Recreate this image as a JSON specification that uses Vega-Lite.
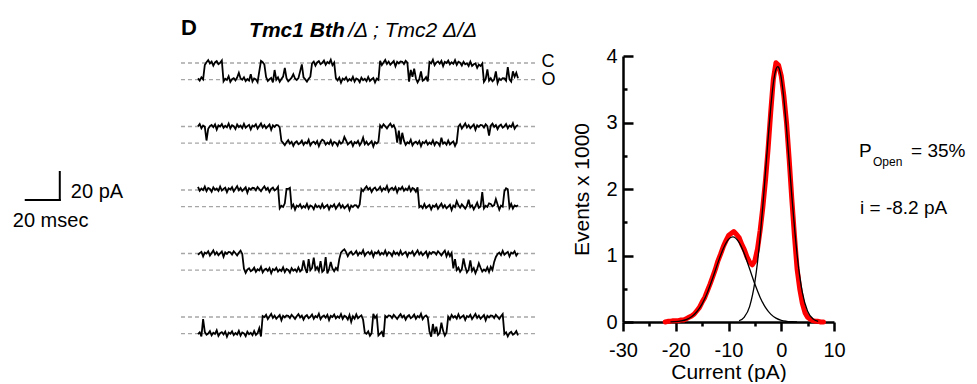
{
"$schema":"https://vega.github.io/schema/vega-lite/v6.json",
"background":"white",
"padding":{"left":12,"top":17,"right":0,"bottom":0},
"config":{"view":{"stroke":null},"font":"Liberation Sans","axis":{"labelFont":"Liberation Sans","titleFont":"Liberation Sans"}},
"datasets":{
"traces":[
{"k":1,"t":0,"v":-11.0},{"k":1,"t":1,"v":-12.6},{"k":1,"t":2,"v":-10.3},{"k":1,"t":3,"v":-11.7},{"k":1,"t":4,"v":-1.4},{"k":1,"t":5,"v":0.6},{"k":1,"t":6,"v":2.1},{"k":1,"t":7,"v":-0.3},{"k":1,"t":8,"v":1.0},{"k":1,"t":9,"v":-1.9},{"k":1,"t":10,"v":0.4},{"k":1,"t":11,"v":1.3},{"k":1,"t":12,"v":-0.8},{"k":1,"t":13,"v":0.1},{"k":1,"t":14,"v":1.8},{"k":1,"t":15,"v":-13.1},{"k":1,"t":16,"v":-11.2},{"k":1,"t":17,"v":-12.1},{"k":1,"t":18,"v":-9.5},{"k":1,"t":19,"v":-13.5},{"k":1,"t":20,"v":-11.6},{"k":1,"t":21,"v":-10.8},{"k":1,"t":22,"v":-12.4},{"k":1,"t":23,"v":-10.4},{"k":1,"t":24,"v":-7.0},{"k":1,"t":25,"v":-11.1},{"k":1,"t":26,"v":-11.9},{"k":1,"t":27,"v":-10.2},{"k":1,"t":28,"v":-12.9},{"k":1,"t":29,"v":-11.4},{"k":1,"t":30,"v":-12.5},{"k":1,"t":31,"v":-8.0},{"k":1,"t":32,"v":-13.2},{"k":1,"t":33,"v":-11.0},{"k":1,"t":34,"v":-11.7},{"k":1,"t":35,"v":-13.7},{"k":1,"t":36,"v":-6.0},{"k":1,"t":37,"v":1.5},{"k":1,"t":38,"v":0.6},{"k":1,"t":39,"v":-1.1},{"k":1,"t":40,"v":-10.0},{"k":1,"t":41,"v":-12.8},{"k":1,"t":42,"v":-11.6},{"k":1,"t":43,"v":-10.7},{"k":1,"t":44,"v":-13.9},{"k":1,"t":45,"v":-5.0},{"k":1,"t":46,"v":-12.0},{"k":1,"t":47,"v":-10.3},{"k":1,"t":48,"v":-13.4},{"k":1,"t":49,"v":-11.5},{"k":1,"t":50,"v":-9.7},{"k":1,"t":51,"v":-3.5},{"k":1,"t":52,"v":-10.9},{"k":1,"t":53,"v":-13.1},{"k":1,"t":54,"v":-11.8},{"k":1,"t":55,"v":-10.5},{"k":1,"t":56,"v":-8.0},{"k":1,"t":57,"v":-11.1},{"k":1,"t":58,"v":-12.2},{"k":1,"t":59,"v":-10.8},{"k":1,"t":60,"v":-6.0},{"k":1,"t":61,"v":-1.0},{"k":1,"t":62,"v":-10.3},{"k":1,"t":63,"v":-11.7},{"k":1,"t":64,"v":-13.3},{"k":1,"t":65,"v":-11.3},{"k":1,"t":66,"v":-9.8},{"k":1,"t":67,"v":-0.3},{"k":1,"t":68,"v":1.0},{"k":1,"t":69,"v":-1.9},{"k":1,"t":70,"v":0.4},{"k":1,"t":71,"v":1.3},{"k":1,"t":72,"v":-0.8},{"k":1,"t":73,"v":0.1},{"k":1,"t":74,"v":1.8},{"k":1,"t":75,"v":-1.2},{"k":1,"t":76,"v":0.7},{"k":1,"t":77,"v":-0.2},{"k":1,"t":78,"v":2.4},{"k":1,"t":79,"v":-1.6},{"k":1,"t":80,"v":0.3},{"k":1,"t":81,"v":-10.8},{"k":1,"t":82,"v":-12.4},{"k":1,"t":83,"v":-10.4},{"k":1,"t":84,"v":-14.1},{"k":1,"t":85,"v":-11.1},{"k":1,"t":86,"v":-11.9},{"k":1,"t":87,"v":-10.2},{"k":1,"t":88,"v":-12.9},{"k":1,"t":89,"v":-11.4},{"k":1,"t":90,"v":-12.5},{"k":1,"t":91,"v":-9.9},{"k":1,"t":92,"v":-13.2},{"k":1,"t":93,"v":-11.0},{"k":1,"t":94,"v":-11.7},{"k":1,"t":95,"v":-13.7},{"k":1,"t":96,"v":-10.5},{"k":1,"t":97,"v":-12.3},{"k":1,"t":98,"v":-11.3},{"k":1,"t":99,"v":-13.0},{"k":1,"t":100,"v":-10.0},{"k":1,"t":101,"v":-12.8},{"k":1,"t":102,"v":-11.6},{"k":1,"t":103,"v":-10.7},{"k":1,"t":104,"v":-13.9},{"k":1,"t":105,"v":-11.2},{"k":1,"t":106,"v":-12.0},{"k":1,"t":107,"v":1.6},{"k":1,"t":108,"v":-1.5},{"k":1,"t":109,"v":0.4},{"k":1,"t":110,"v":2.2},{"k":1,"t":111,"v":-0.7},{"k":1,"t":112,"v":1.0},{"k":1,"t":113,"v":-1.2},{"k":1,"t":114,"v":0.1},{"k":1,"t":115,"v":1.4},{"k":1,"t":116,"v":-2.4},{"k":1,"t":117,"v":0.8},{"k":1,"t":118,"v":-0.3},{"k":1,"t":119,"v":1.1},{"k":1,"t":120,"v":0.9},{"k":1,"t":121,"v":-0.7},{"k":1,"t":122,"v":1.6},{"k":1,"t":123,"v":0.2},{"k":1,"t":124,"v":-13.3},{"k":1,"t":125,"v":-5.0},{"k":1,"t":126,"v":-9.8},{"k":1,"t":127,"v":-4.0},{"k":1,"t":128,"v":-10.9},{"k":1,"t":129,"v":-13.8},{"k":1,"t":130,"v":-11.5},{"k":1,"t":131,"v":-6.0},{"k":1,"t":132,"v":-12.7},{"k":1,"t":133,"v":-11.8},{"k":1,"t":134,"v":-10.1},{"k":1,"t":135,"v":-13.1},{"k":1,"t":136,"v":0.7},{"k":1,"t":137,"v":-0.2},{"k":1,"t":138,"v":2.4},{"k":1,"t":139,"v":-1.6},{"k":1,"t":140,"v":0.3},{"k":1,"t":141,"v":1.1},{"k":1,"t":142,"v":-0.5},{"k":1,"t":143,"v":1.5},{"k":1,"t":144,"v":-2.2},{"k":1,"t":145,"v":0.8},{"k":1,"t":146,"v":0.0},{"k":1,"t":147,"v":1.7},{"k":1,"t":148,"v":-1.0},{"k":1,"t":149,"v":0.5},{"k":1,"t":150,"v":-0.6},{"k":1,"t":151,"v":2.0},{"k":1,"t":152,"v":-1.3},{"k":1,"t":153,"v":0.9},{"k":1,"t":154,"v":0.2},{"k":1,"t":155,"v":-1.8},{"k":1,"t":156,"v":0.9},{"k":1,"t":157,"v":-0.9},{"k":1,"t":158,"v":-0.2},{"k":1,"t":159,"v":-2.1},{"k":1,"t":160,"v":0.9},{"k":1,"t":161,"v":-2.1},{"k":1,"t":162,"v":-0.9},{"k":1,"t":163,"v":-0.3},{"k":1,"t":164,"v":-3.5},{"k":1,"t":165,"v":-1.1},{"k":1,"t":166,"v":-2.1},{"k":1,"t":167,"v":-0.4},{"k":1,"t":168,"v":-13.4},{"k":1,"t":169,"v":-11.5},{"k":1,"t":170,"v":-4.5},{"k":1,"t":171,"v":-12.6},{"k":1,"t":172,"v":-10.9},{"k":1,"t":173,"v":-13.1},{"k":1,"t":174,"v":-11.8},{"k":1,"t":175,"v":-6.0},{"k":1,"t":176,"v":-14.3},{"k":1,"t":177,"v":-11.1},{"k":1,"t":178,"v":-12.2},{"k":1,"t":179,"v":-10.8},{"k":1,"t":180,"v":-11.0},{"k":1,"t":181,"v":-12.6},{"k":1,"t":182,"v":-3.0},{"k":1,"t":183,"v":-11.7},{"k":1,"t":184,"v":-13.3},{"k":1,"t":185,"v":-6.0},{"k":1,"t":186,"v":-9.8},{"k":1,"t":187,"v":-7.0},{"k":1,"t":188,"v":-10.9},
{"k":2,"t":0,"v":0.1},{"k":2,"t":1,"v":1.8},{"k":2,"t":2,"v":-1.2},{"k":2,"t":3,"v":0.7},{"k":2,"t":4,"v":-0.2},{"k":2,"t":5,"v":-10.0},{"k":2,"t":6,"v":-1.6},{"k":2,"t":7,"v":0.3},{"k":2,"t":8,"v":1.1},{"k":2,"t":9,"v":-0.5},{"k":2,"t":10,"v":1.5},{"k":2,"t":11,"v":-2.2},{"k":2,"t":12,"v":0.8},{"k":2,"t":13,"v":0.0},{"k":2,"t":14,"v":1.7},{"k":2,"t":15,"v":-1.0},{"k":2,"t":16,"v":0.5},{"k":2,"t":17,"v":-0.6},{"k":2,"t":18,"v":2.0},{"k":2,"t":19,"v":-1.3},{"k":2,"t":20,"v":0.9},{"k":2,"t":21,"v":0.2},{"k":2,"t":22,"v":-1.8},{"k":2,"t":23,"v":1.4},{"k":2,"t":24,"v":-0.4},{"k":2,"t":25,"v":0.6},{"k":2,"t":26,"v":-1.1},{"k":2,"t":27,"v":1.9},{"k":2,"t":28,"v":-0.9},{"k":2,"t":29,"v":0.3},{"k":2,"t":30,"v":1.2},{"k":2,"t":31,"v":-2.0},{"k":2,"t":32,"v":0.7},{"k":2,"t":33,"v":-0.1},{"k":2,"t":34,"v":1.6},{"k":2,"t":35,"v":-1.5},{"k":2,"t":36,"v":0.4},{"k":2,"t":37,"v":2.2},{"k":2,"t":38,"v":-0.7},{"k":2,"t":39,"v":1.0},{"k":2,"t":40,"v":-1.2},{"k":2,"t":41,"v":0.1},{"k":2,"t":42,"v":1.4},{"k":2,"t":43,"v":-2.4},{"k":2,"t":44,"v":0.8},{"k":2,"t":45,"v":-0.3},{"k":2,"t":46,"v":1.1},{"k":2,"t":47,"v":0.9},{"k":2,"t":48,"v":-0.7},{"k":2,"t":49,"v":-10.3},{"k":2,"t":50,"v":-11.7},{"k":2,"t":51,"v":-13.3},{"k":2,"t":52,"v":-11.3},{"k":2,"t":53,"v":-9.8},{"k":2,"t":54,"v":-12.2},{"k":2,"t":55,"v":-10.9},{"k":2,"t":56,"v":-13.8},{"k":2,"t":57,"v":-11.5},{"k":2,"t":58,"v":-10.6},{"k":2,"t":59,"v":-12.7},{"k":2,"t":60,"v":-11.8},{"k":2,"t":61,"v":-10.1},{"k":2,"t":62,"v":-13.1},{"k":2,"t":63,"v":-11.2},{"k":2,"t":64,"v":-12.1},{"k":2,"t":65,"v":-9.5},{"k":2,"t":66,"v":-13.5},{"k":2,"t":67,"v":-11.6},{"k":2,"t":68,"v":-10.8},{"k":2,"t":69,"v":-12.4},{"k":2,"t":70,"v":-10.4},{"k":2,"t":71,"v":-14.1},{"k":2,"t":72,"v":-11.1},{"k":2,"t":73,"v":-9.5},{"k":2,"t":74,"v":-10.2},{"k":2,"t":75,"v":-12.9},{"k":2,"t":76,"v":-11.4},{"k":2,"t":77,"v":-12.5},{"k":2,"t":78,"v":-9.9},{"k":2,"t":79,"v":-13.2},{"k":2,"t":80,"v":-11.0},{"k":2,"t":81,"v":-11.7},{"k":2,"t":82,"v":-13.7},{"k":2,"t":83,"v":-10.5},{"k":2,"t":84,"v":-12.3},{"k":2,"t":85,"v":-11.3},{"k":2,"t":86,"v":-7.5},{"k":2,"t":87,"v":-10.0},{"k":2,"t":88,"v":-12.8},{"k":2,"t":89,"v":-11.6},{"k":2,"t":90,"v":-10.7},{"k":2,"t":91,"v":-13.9},{"k":2,"t":92,"v":-11.2},{"k":2,"t":93,"v":-12.0},{"k":2,"t":94,"v":-10.3},{"k":2,"t":95,"v":-13.4},{"k":2,"t":96,"v":-11.5},{"k":2,"t":97,"v":-8.0},{"k":2,"t":98,"v":-12.6},{"k":2,"t":99,"v":-10.9},{"k":2,"t":100,"v":-13.1},{"k":2,"t":101,"v":-11.8},{"k":2,"t":102,"v":-10.5},{"k":2,"t":103,"v":-14.3},{"k":2,"t":104,"v":-11.1},{"k":2,"t":105,"v":-12.2},{"k":2,"t":106,"v":-10.8},{"k":2,"t":107,"v":0.9},{"k":2,"t":108,"v":-0.7},{"k":2,"t":109,"v":1.6},{"k":2,"t":110,"v":0.2},{"k":2,"t":111,"v":-1.4},{"k":2,"t":112,"v":0.6},{"k":2,"t":113,"v":2.1},{"k":2,"t":114,"v":-0.3},{"k":2,"t":115,"v":1.0},{"k":2,"t":116,"v":-1.9},{"k":2,"t":117,"v":-11.5},{"k":2,"t":118,"v":-3.0},{"k":2,"t":119,"v":-12.7},{"k":2,"t":120,"v":-4.5},{"k":2,"t":121,"v":-10.1},{"k":2,"t":122,"v":-13.1},{"k":2,"t":123,"v":-11.2},{"k":2,"t":124,"v":-12.1},{"k":2,"t":125,"v":-9.5},{"k":2,"t":126,"v":-13.5},{"k":2,"t":127,"v":-11.6},{"k":2,"t":128,"v":-10.8},{"k":2,"t":129,"v":-12.4},{"k":2,"t":130,"v":-10.4},{"k":2,"t":131,"v":-14.1},{"k":2,"t":132,"v":-11.1},{"k":2,"t":133,"v":-11.9},{"k":2,"t":134,"v":-10.2},{"k":2,"t":135,"v":-12.9},{"k":2,"t":136,"v":-11.4},{"k":2,"t":137,"v":-12.5},{"k":2,"t":138,"v":-9.9},{"k":2,"t":139,"v":-13.2},{"k":2,"t":140,"v":-11.0},{"k":2,"t":141,"v":-11.7},{"k":2,"t":142,"v":-13.7},{"k":2,"t":143,"v":-8.0},{"k":2,"t":144,"v":-12.3},{"k":2,"t":145,"v":-11.3},{"k":2,"t":146,"v":-13.0},{"k":2,"t":147,"v":-10.0},{"k":2,"t":148,"v":-12.8},{"k":2,"t":149,"v":-11.6},{"k":2,"t":150,"v":-10.7},{"k":2,"t":151,"v":-13.9},{"k":2,"t":152,"v":-11.2},{"k":2,"t":153,"v":-0.1},{"k":2,"t":154,"v":1.6},{"k":2,"t":155,"v":-1.5},{"k":2,"t":156,"v":0.4},{"k":2,"t":157,"v":2.2},{"k":2,"t":158,"v":-0.7},{"k":2,"t":159,"v":1.0},{"k":2,"t":160,"v":-1.2},{"k":2,"t":161,"v":0.1},{"k":2,"t":162,"v":1.4},{"k":2,"t":163,"v":-2.4},{"k":2,"t":164,"v":0.8},{"k":2,"t":165,"v":-0.3},{"k":2,"t":166,"v":1.1},{"k":2,"t":167,"v":0.9},{"k":2,"t":168,"v":-0.7},{"k":2,"t":169,"v":1.6},{"k":2,"t":170,"v":0.2},{"k":2,"t":171,"v":-6.5},{"k":2,"t":172,"v":0.6},{"k":2,"t":173,"v":2.1},{"k":2,"t":174,"v":-0.3},{"k":2,"t":175,"v":1.0},{"k":2,"t":176,"v":-1.9},{"k":2,"t":177,"v":0.4},{"k":2,"t":178,"v":1.3},{"k":2,"t":179,"v":-0.8},{"k":2,"t":180,"v":0.1},{"k":2,"t":181,"v":1.8},{"k":2,"t":182,"v":-1.2},{"k":2,"t":183,"v":0.7},{"k":2,"t":184,"v":-0.2},{"k":2,"t":185,"v":2.4},{"k":2,"t":186,"v":-1.6},{"k":2,"t":187,"v":0.3},{"k":2,"t":188,"v":1.1},
{"k":3,"t":0,"v":2.2},{"k":3,"t":1,"v":-0.5},{"k":3,"t":2,"v":1.0},{"k":3,"t":3,"v":-0.1},{"k":3,"t":4,"v":2.5},{"k":3,"t":5,"v":-0.8},{"k":3,"t":6,"v":1.4},{"k":3,"t":7,"v":0.7},{"k":3,"t":8,"v":-1.3},{"k":3,"t":9,"v":1.9},{"k":3,"t":10,"v":0.1},{"k":3,"t":11,"v":1.1},{"k":3,"t":12,"v":-0.6},{"k":3,"t":13,"v":2.4},{"k":3,"t":14,"v":-0.4},{"k":3,"t":15,"v":0.8},{"k":3,"t":16,"v":1.7},{"k":3,"t":17,"v":-1.5},{"k":3,"t":18,"v":1.2},{"k":3,"t":19,"v":0.4},{"k":3,"t":20,"v":2.1},{"k":3,"t":21,"v":-1.0},{"k":3,"t":22,"v":0.9},{"k":3,"t":23,"v":2.7},{"k":3,"t":24,"v":-0.2},{"k":3,"t":25,"v":1.5},{"k":3,"t":26,"v":-0.7},{"k":3,"t":27,"v":0.6},{"k":3,"t":28,"v":1.9},{"k":3,"t":29,"v":-1.9},{"k":3,"t":30,"v":1.3},{"k":3,"t":31,"v":0.2},{"k":3,"t":32,"v":1.6},{"k":3,"t":33,"v":1.4},{"k":3,"t":34,"v":-0.2},{"k":3,"t":35,"v":2.1},{"k":3,"t":36,"v":0.7},{"k":3,"t":37,"v":-0.9},{"k":3,"t":38,"v":1.1},{"k":3,"t":39,"v":2.6},{"k":3,"t":40,"v":0.2},{"k":3,"t":41,"v":1.5},{"k":3,"t":42,"v":-1.4},{"k":3,"t":43,"v":0.9},{"k":3,"t":44,"v":1.8},{"k":3,"t":45,"v":-0.3},{"k":3,"t":46,"v":0.6},{"k":3,"t":47,"v":2.3},{"k":3,"t":48,"v":-13.1},{"k":3,"t":49,"v":-11.2},{"k":3,"t":50,"v":-12.1},{"k":3,"t":51,"v":-9.5},{"k":3,"t":52,"v":0.8},{"k":3,"t":53,"v":0.8},{"k":3,"t":54,"v":1.6},{"k":3,"t":55,"v":-12.4},{"k":3,"t":56,"v":-10.4},{"k":3,"t":57,"v":-14.1},{"k":3,"t":58,"v":-11.1},{"k":3,"t":59,"v":-11.9},{"k":3,"t":60,"v":-10.2},{"k":3,"t":61,"v":-12.9},{"k":3,"t":62,"v":-11.4},{"k":3,"t":63,"v":-12.5},{"k":3,"t":64,"v":-9.9},{"k":3,"t":65,"v":-13.2},{"k":3,"t":66,"v":-11.0},{"k":3,"t":67,"v":-11.7},{"k":3,"t":68,"v":-13.7},{"k":3,"t":69,"v":-10.5},{"k":3,"t":70,"v":-12.3},{"k":3,"t":71,"v":-11.3},{"k":3,"t":72,"v":-13.0},{"k":3,"t":73,"v":-10.0},{"k":3,"t":74,"v":-12.8},{"k":3,"t":75,"v":-11.6},{"k":3,"t":76,"v":-10.7},{"k":3,"t":77,"v":-13.9},{"k":3,"t":78,"v":-11.2},{"k":3,"t":79,"v":-12.0},{"k":3,"t":80,"v":-10.3},{"k":3,"t":81,"v":-13.4},{"k":3,"t":82,"v":-11.5},{"k":3,"t":83,"v":-9.7},{"k":3,"t":84,"v":-12.6},{"k":3,"t":85,"v":-10.9},{"k":3,"t":86,"v":-13.1},{"k":3,"t":87,"v":-11.8},{"k":3,"t":88,"v":-10.5},{"k":3,"t":89,"v":-14.3},{"k":3,"t":90,"v":-11.1},{"k":3,"t":91,"v":-12.2},{"k":3,"t":92,"v":-10.8},{"k":3,"t":93,"v":-11.0},{"k":3,"t":94,"v":-12.6},{"k":3,"t":95,"v":-10.3},{"k":3,"t":96,"v":0.7},{"k":3,"t":97,"v":-0.9},{"k":3,"t":98,"v":1.1},{"k":3,"t":99,"v":2.6},{"k":3,"t":100,"v":0.2},{"k":3,"t":101,"v":1.5},{"k":3,"t":102,"v":-1.4},{"k":3,"t":103,"v":0.9},{"k":3,"t":104,"v":1.8},{"k":3,"t":105,"v":-0.3},{"k":3,"t":106,"v":0.6},{"k":3,"t":107,"v":2.3},{"k":3,"t":108,"v":-0.7},{"k":3,"t":109,"v":1.2},{"k":3,"t":110,"v":0.3},{"k":3,"t":111,"v":2.9},{"k":3,"t":112,"v":-1.1},{"k":3,"t":113,"v":0.8},{"k":3,"t":114,"v":1.6},{"k":3,"t":115,"v":0.0},{"k":3,"t":116,"v":2.0},{"k":3,"t":117,"v":-1.7},{"k":3,"t":118,"v":1.3},{"k":3,"t":119,"v":0.5},{"k":3,"t":120,"v":2.2},{"k":3,"t":121,"v":-0.5},{"k":3,"t":122,"v":1.0},{"k":3,"t":123,"v":-0.1},{"k":3,"t":124,"v":2.5},{"k":3,"t":125,"v":-0.8},{"k":3,"t":126,"v":1.4},{"k":3,"t":127,"v":0.7},{"k":3,"t":128,"v":-1.3},{"k":3,"t":129,"v":1.9},{"k":3,"t":130,"v":-12.3},{"k":3,"t":131,"v":-11.3},{"k":3,"t":132,"v":-13.0},{"k":3,"t":133,"v":-10.0},{"k":3,"t":134,"v":-12.8},{"k":3,"t":135,"v":-11.6},{"k":3,"t":136,"v":-10.7},{"k":3,"t":137,"v":-13.9},{"k":3,"t":138,"v":-11.2},{"k":3,"t":139,"v":-12.0},{"k":3,"t":140,"v":-10.3},{"k":3,"t":141,"v":-13.4},{"k":3,"t":142,"v":-11.5},{"k":3,"t":143,"v":-9.7},{"k":3,"t":144,"v":-12.6},{"k":3,"t":145,"v":-10.9},{"k":3,"t":146,"v":-13.1},{"k":3,"t":147,"v":-11.8},{"k":3,"t":148,"v":-10.5},{"k":3,"t":149,"v":-14.3},{"k":3,"t":150,"v":-11.1},{"k":3,"t":151,"v":-12.2},{"k":3,"t":152,"v":-8.0},{"k":3,"t":153,"v":-11.0},{"k":3,"t":154,"v":-12.6},{"k":3,"t":155,"v":-10.3},{"k":3,"t":156,"v":-11.7},{"k":3,"t":157,"v":-13.3},{"k":3,"t":158,"v":-11.3},{"k":3,"t":159,"v":-7.0},{"k":3,"t":160,"v":-12.2},{"k":3,"t":161,"v":-10.9},{"k":3,"t":162,"v":-13.8},{"k":3,"t":163,"v":-11.5},{"k":3,"t":164,"v":-9.0},{"k":3,"t":165,"v":-12.7},{"k":3,"t":166,"v":-11.8},{"k":3,"t":167,"v":-1.5},{"k":3,"t":168,"v":-13.1},{"k":3,"t":169,"v":-11.2},{"k":3,"t":170,"v":-12.1},{"k":3,"t":171,"v":-9.5},{"k":3,"t":172,"v":-10.0},{"k":3,"t":173,"v":-11.6},{"k":3,"t":174,"v":-10.8},{"k":3,"t":175,"v":-6.5},{"k":3,"t":176,"v":-10.4},{"k":3,"t":177,"v":-14.1},{"k":3,"t":178,"v":-11.1},{"k":3,"t":179,"v":-11.9},{"k":3,"t":180,"v":-1.0},{"k":3,"t":181,"v":1.2},{"k":3,"t":182,"v":0.5},{"k":3,"t":183,"v":-12.5},{"k":3,"t":184,"v":-9.9},{"k":3,"t":185,"v":-13.2},{"k":3,"t":186,"v":-11.0},{"k":3,"t":187,"v":-11.7},{"k":3,"t":188,"v":-10.8},
{"k":4,"t":0,"v":-0.9},{"k":4,"t":1,"v":0.3},{"k":4,"t":2,"v":1.2},{"k":4,"t":3,"v":-2.0},{"k":4,"t":4,"v":0.7},{"k":4,"t":5,"v":-0.1},{"k":4,"t":6,"v":1.6},{"k":4,"t":7,"v":-1.5},{"k":4,"t":8,"v":0.4},{"k":4,"t":9,"v":2.2},{"k":4,"t":10,"v":-0.7},{"k":4,"t":11,"v":1.0},{"k":4,"t":12,"v":-1.2},{"k":4,"t":13,"v":0.1},{"k":4,"t":14,"v":1.4},{"k":4,"t":15,"v":-2.4},{"k":4,"t":16,"v":0.8},{"k":4,"t":17,"v":-0.3},{"k":4,"t":18,"v":1.1},{"k":4,"t":19,"v":0.9},{"k":4,"t":20,"v":-0.7},{"k":4,"t":21,"v":1.6},{"k":4,"t":22,"v":0.2},{"k":4,"t":23,"v":-1.4},{"k":4,"t":24,"v":0.6},{"k":4,"t":25,"v":2.1},{"k":4,"t":26,"v":-0.3},{"k":4,"t":27,"v":-10.9},{"k":4,"t":28,"v":-13.8},{"k":4,"t":29,"v":-11.5},{"k":4,"t":30,"v":-10.6},{"k":4,"t":31,"v":-12.7},{"k":4,"t":32,"v":-11.8},{"k":4,"t":33,"v":-10.1},{"k":4,"t":34,"v":-13.1},{"k":4,"t":35,"v":-11.2},{"k":4,"t":36,"v":-12.1},{"k":4,"t":37,"v":-9.5},{"k":4,"t":38,"v":-13.5},{"k":4,"t":39,"v":-11.6},{"k":4,"t":40,"v":-10.8},{"k":4,"t":41,"v":-12.4},{"k":4,"t":42,"v":-10.4},{"k":4,"t":43,"v":-14.1},{"k":4,"t":44,"v":-11.1},{"k":4,"t":45,"v":-11.9},{"k":4,"t":46,"v":-10.2},{"k":4,"t":47,"v":-12.9},{"k":4,"t":48,"v":-11.4},{"k":4,"t":49,"v":-12.5},{"k":4,"t":50,"v":-9.9},{"k":4,"t":51,"v":-13.2},{"k":4,"t":52,"v":-11.0},{"k":4,"t":53,"v":-11.7},{"k":4,"t":54,"v":-13.7},{"k":4,"t":55,"v":-10.5},{"k":4,"t":56,"v":-12.3},{"k":4,"t":57,"v":-11.3},{"k":4,"t":58,"v":-13.0},{"k":4,"t":59,"v":-10.0},{"k":4,"t":60,"v":-12.8},{"k":4,"t":61,"v":-11.6},{"k":4,"t":62,"v":-5.0},{"k":4,"t":63,"v":-10.7},{"k":4,"t":64,"v":-13.9},{"k":4,"t":65,"v":-4.0},{"k":4,"t":66,"v":-12.0},{"k":4,"t":67,"v":-10.3},{"k":4,"t":68,"v":-3.0},{"k":4,"t":69,"v":-11.5},{"k":4,"t":70,"v":-9.7},{"k":4,"t":71,"v":-12.6},{"k":4,"t":72,"v":-5.5},{"k":4,"t":73,"v":-13.1},{"k":4,"t":74,"v":-11.8},{"k":4,"t":75,"v":-2.5},{"k":4,"t":76,"v":-14.3},{"k":4,"t":77,"v":-11.1},{"k":4,"t":78,"v":-6.0},{"k":4,"t":79,"v":-10.8},{"k":4,"t":80,"v":-12.6},{"k":4,"t":81,"v":-10.3},{"k":4,"t":82,"v":-11.7},{"k":4,"t":83,"v":-4.0},{"k":4,"t":84,"v":0.6},{"k":4,"t":85,"v":2.1},{"k":4,"t":86,"v":3.0},{"k":4,"t":87,"v":1.0},{"k":4,"t":88,"v":-1.9},{"k":4,"t":89,"v":0.4},{"k":4,"t":90,"v":1.3},{"k":4,"t":91,"v":-0.8},{"k":4,"t":92,"v":0.1},{"k":4,"t":93,"v":1.8},{"k":4,"t":94,"v":-1.2},{"k":4,"t":95,"v":0.7},{"k":4,"t":96,"v":-0.2},{"k":4,"t":97,"v":2.4},{"k":4,"t":98,"v":-1.6},{"k":4,"t":99,"v":0.3},{"k":4,"t":100,"v":1.1},{"k":4,"t":101,"v":-0.5},{"k":4,"t":102,"v":1.5},{"k":4,"t":103,"v":-2.2},{"k":4,"t":104,"v":0.8},{"k":4,"t":105,"v":0.0},{"k":4,"t":106,"v":1.7},{"k":4,"t":107,"v":-1.0},{"k":4,"t":108,"v":0.5},{"k":4,"t":109,"v":-0.6},{"k":4,"t":110,"v":2.0},{"k":4,"t":111,"v":-1.3},{"k":4,"t":112,"v":0.9},{"k":4,"t":113,"v":0.2},{"k":4,"t":114,"v":-1.8},{"k":4,"t":115,"v":1.4},{"k":4,"t":116,"v":-0.4},{"k":4,"t":117,"v":0.6},{"k":4,"t":118,"v":-1.1},{"k":4,"t":119,"v":1.9},{"k":4,"t":120,"v":-0.9},{"k":4,"t":121,"v":0.3},{"k":4,"t":122,"v":1.2},{"k":4,"t":123,"v":-2.0},{"k":4,"t":124,"v":0.7},{"k":4,"t":125,"v":-0.1},{"k":4,"t":126,"v":1.6},{"k":4,"t":127,"v":-1.5},{"k":4,"t":128,"v":0.4},{"k":4,"t":129,"v":2.2},{"k":4,"t":130,"v":-0.7},{"k":4,"t":131,"v":1.0},{"k":4,"t":132,"v":-1.2},{"k":4,"t":133,"v":0.1},{"k":4,"t":134,"v":1.4},{"k":4,"t":135,"v":-2.4},{"k":4,"t":136,"v":0.8},{"k":4,"t":137,"v":-0.3},{"k":4,"t":138,"v":1.1},{"k":4,"t":139,"v":0.9},{"k":4,"t":140,"v":-0.7},{"k":4,"t":141,"v":1.6},{"k":4,"t":142,"v":0.2},{"k":4,"t":143,"v":-1.4},{"k":4,"t":144,"v":0.6},{"k":4,"t":145,"v":2.1},{"k":4,"t":146,"v":-2.0},{"k":4,"t":147,"v":1.0},{"k":4,"t":148,"v":-1.9},{"k":4,"t":149,"v":0.4},{"k":4,"t":150,"v":-10.6},{"k":4,"t":151,"v":-4.0},{"k":4,"t":152,"v":-11.8},{"k":4,"t":153,"v":-10.1},{"k":4,"t":154,"v":-13.1},{"k":4,"t":155,"v":-11.2},{"k":4,"t":156,"v":-3.5},{"k":4,"t":157,"v":-9.5},{"k":4,"t":158,"v":-13.5},{"k":4,"t":159,"v":-11.6},{"k":4,"t":160,"v":-5.0},{"k":4,"t":161,"v":-12.4},{"k":4,"t":162,"v":-10.4},{"k":4,"t":163,"v":-14.1},{"k":4,"t":164,"v":-11.1},{"k":4,"t":165,"v":-7.0},{"k":4,"t":166,"v":-10.2},{"k":4,"t":167,"v":-12.9},{"k":4,"t":168,"v":-11.4},{"k":4,"t":169,"v":-12.5},{"k":4,"t":170,"v":-9.9},{"k":4,"t":171,"v":-13.2},{"k":4,"t":172,"v":-9.5},{"k":4,"t":173,"v":-11.7},{"k":4,"t":174,"v":-6.0},{"k":4,"t":175,"v":-2.5},{"k":4,"t":176,"v":-0.4},{"k":4,"t":177,"v":0.6},{"k":4,"t":178,"v":-1.1},{"k":4,"t":179,"v":1.9},{"k":4,"t":180,"v":-0.9},{"k":4,"t":181,"v":0.3},{"k":4,"t":182,"v":1.2},{"k":4,"t":183,"v":-2.0},{"k":4,"t":184,"v":0.7},{"k":4,"t":185,"v":-0.1},{"k":4,"t":186,"v":1.6},{"k":4,"t":187,"v":-1.5},{"k":4,"t":188,"v":0.4},
{"k":5,"t":0,"v":-12.2},{"k":5,"t":1,"v":-10.9},{"k":5,"t":2,"v":-13.8},{"k":5,"t":3,"v":-1.5},{"k":5,"t":4,"v":-10.6},{"k":5,"t":5,"v":-12.7},{"k":5,"t":6,"v":-11.8},{"k":5,"t":7,"v":-10.1},{"k":5,"t":8,"v":-13.1},{"k":5,"t":9,"v":-11.2},{"k":5,"t":10,"v":-12.1},{"k":5,"t":11,"v":-9.5},{"k":5,"t":12,"v":-13.5},{"k":5,"t":13,"v":-11.6},{"k":5,"t":14,"v":-10.8},{"k":5,"t":15,"v":-12.4},{"k":5,"t":16,"v":-10.4},{"k":5,"t":17,"v":-14.1},{"k":5,"t":18,"v":-11.1},{"k":5,"t":19,"v":-11.9},{"k":5,"t":20,"v":-10.2},{"k":5,"t":21,"v":-12.9},{"k":5,"t":22,"v":-11.4},{"k":5,"t":23,"v":-12.5},{"k":5,"t":24,"v":-9.9},{"k":5,"t":25,"v":-13.2},{"k":5,"t":26,"v":-11.0},{"k":5,"t":27,"v":-11.7},{"k":5,"t":28,"v":-13.7},{"k":5,"t":29,"v":-10.5},{"k":5,"t":30,"v":-12.3},{"k":5,"t":31,"v":-11.3},{"k":5,"t":32,"v":-13.0},{"k":5,"t":33,"v":-10.0},{"k":5,"t":34,"v":-12.8},{"k":5,"t":35,"v":-11.6},{"k":5,"t":36,"v":-8.0},{"k":5,"t":37,"v":-13.9},{"k":5,"t":38,"v":0.7},{"k":5,"t":39,"v":-0.1},{"k":5,"t":40,"v":1.6},{"k":5,"t":41,"v":-1.5},{"k":5,"t":42,"v":0.4},{"k":5,"t":43,"v":2.2},{"k":5,"t":44,"v":-0.7},{"k":5,"t":45,"v":1.0},{"k":5,"t":46,"v":-1.2},{"k":5,"t":47,"v":0.1},{"k":5,"t":48,"v":1.4},{"k":5,"t":49,"v":-2.4},{"k":5,"t":50,"v":0.8},{"k":5,"t":51,"v":-0.3},{"k":5,"t":52,"v":1.1},{"k":5,"t":53,"v":0.9},{"k":5,"t":54,"v":-0.7},{"k":5,"t":55,"v":1.6},{"k":5,"t":56,"v":0.2},{"k":5,"t":57,"v":-1.4},{"k":5,"t":58,"v":0.6},{"k":5,"t":59,"v":2.1},{"k":5,"t":60,"v":-0.3},{"k":5,"t":61,"v":1.0},{"k":5,"t":62,"v":-1.9},{"k":5,"t":63,"v":0.4},{"k":5,"t":64,"v":1.3},{"k":5,"t":65,"v":-0.8},{"k":5,"t":66,"v":0.1},{"k":5,"t":67,"v":1.8},{"k":5,"t":68,"v":-1.2},{"k":5,"t":69,"v":0.7},{"k":5,"t":70,"v":-0.2},{"k":5,"t":71,"v":2.4},{"k":5,"t":72,"v":-1.6},{"k":5,"t":73,"v":0.3},{"k":5,"t":74,"v":1.1},{"k":5,"t":75,"v":-0.5},{"k":5,"t":76,"v":1.5},{"k":5,"t":77,"v":-2.2},{"k":5,"t":78,"v":0.8},{"k":5,"t":79,"v":0.0},{"k":5,"t":80,"v":1.7},{"k":5,"t":81,"v":-1.0},{"k":5,"t":82,"v":0.5},{"k":5,"t":83,"v":-0.6},{"k":5,"t":84,"v":2.0},{"k":5,"t":85,"v":-1.3},{"k":5,"t":86,"v":0.9},{"k":5,"t":87,"v":0.2},{"k":5,"t":88,"v":-1.8},{"k":5,"t":89,"v":1.4},{"k":5,"t":90,"v":-3.5},{"k":5,"t":91,"v":0.6},{"k":5,"t":92,"v":-1.1},{"k":5,"t":93,"v":1.9},{"k":5,"t":94,"v":-0.9},{"k":5,"t":95,"v":0.3},{"k":5,"t":96,"v":1.2},{"k":5,"t":97,"v":-2.0},{"k":5,"t":98,"v":-11.2},{"k":5,"t":99,"v":-12.0},{"k":5,"t":100,"v":-10.3},{"k":5,"t":101,"v":-13.4},{"k":5,"t":102,"v":-11.5},{"k":5,"t":103,"v":2.2},{"k":5,"t":104,"v":-0.7},{"k":5,"t":105,"v":1.0},{"k":5,"t":106,"v":-13.1},{"k":5,"t":107,"v":-11.8},{"k":5,"t":108,"v":-10.5},{"k":5,"t":109,"v":-14.3},{"k":5,"t":110,"v":0.8},{"k":5,"t":111,"v":-0.3},{"k":5,"t":112,"v":1.1},{"k":5,"t":113,"v":0.9},{"k":5,"t":114,"v":-0.7},{"k":5,"t":115,"v":1.6},{"k":5,"t":116,"v":0.2},{"k":5,"t":117,"v":-1.4},{"k":5,"t":118,"v":0.6},{"k":5,"t":119,"v":2.1},{"k":5,"t":120,"v":-0.3},{"k":5,"t":121,"v":1.0},{"k":5,"t":122,"v":-1.9},{"k":5,"t":123,"v":0.4},{"k":5,"t":124,"v":1.3},{"k":5,"t":125,"v":-0.8},{"k":5,"t":126,"v":0.1},{"k":5,"t":127,"v":1.8},{"k":5,"t":128,"v":-1.2},{"k":5,"t":129,"v":0.7},{"k":5,"t":130,"v":-0.2},{"k":5,"t":131,"v":2.4},{"k":5,"t":132,"v":-1.6},{"k":5,"t":133,"v":0.3},{"k":5,"t":134,"v":1.1},{"k":5,"t":135,"v":-0.5},{"k":5,"t":136,"v":-10.4},{"k":5,"t":137,"v":-14.1},{"k":5,"t":138,"v":-5.0},{"k":5,"t":139,"v":-11.9},{"k":5,"t":140,"v":-7.0},{"k":5,"t":141,"v":-12.9},{"k":5,"t":142,"v":-11.4},{"k":5,"t":143,"v":-4.0},{"k":5,"t":144,"v":-9.9},{"k":5,"t":145,"v":-13.2},{"k":5,"t":146,"v":-11.0},{"k":5,"t":147,"v":0.2},{"k":5,"t":148,"v":-1.8},{"k":5,"t":149,"v":1.4},{"k":5,"t":150,"v":-0.4},{"k":5,"t":151,"v":0.6},{"k":5,"t":152,"v":-1.1},{"k":5,"t":153,"v":1.9},{"k":5,"t":154,"v":-0.9},{"k":5,"t":155,"v":0.3},{"k":5,"t":156,"v":1.2},{"k":5,"t":157,"v":-2.0},{"k":5,"t":158,"v":0.7},{"k":5,"t":159,"v":-0.1},{"k":5,"t":160,"v":1.6},{"k":5,"t":161,"v":-1.5},{"k":5,"t":162,"v":0.4},{"k":5,"t":163,"v":2.2},{"k":5,"t":164,"v":-0.7},{"k":5,"t":165,"v":1.0},{"k":5,"t":166,"v":-1.2},{"k":5,"t":167,"v":0.1},{"k":5,"t":168,"v":1.4},{"k":5,"t":169,"v":-2.4},{"k":5,"t":170,"v":0.8},{"k":5,"t":171,"v":-0.3},{"k":5,"t":172,"v":1.1},{"k":5,"t":173,"v":0.9},{"k":5,"t":174,"v":-0.7},{"k":5,"t":175,"v":1.6},{"k":5,"t":176,"v":0.2},{"k":5,"t":177,"v":-1.4},{"k":5,"t":178,"v":0.6},{"k":5,"t":179,"v":2.1},{"k":5,"t":180,"v":-12.2},{"k":5,"t":181,"v":-10.9},{"k":5,"t":182,"v":-13.8},{"k":5,"t":183,"v":-11.5},{"k":5,"t":184,"v":-10.6},{"k":5,"t":185,"v":-12.7},{"k":5,"t":186,"v":-11.8},{"k":5,"t":187,"v":-10.1},{"k":5,"t":188,"v":-13.1}
],
"levels":[{"t":-10,"t2":198,"v":0},{"t":-10,"t2":198,"v":-11.9}],
"red":[{"x":-22,"y":0.0},{"x":-21.5,"y":0.01},{"x":-21,"y":0.01},{"x":-20.5,"y":0.02},{"x":-20,"y":0.02},{"x":-19.5,"y":0.02},{"x":-19,"y":0.03},{"x":-18.5,"y":0.03},{"x":-18,"y":0.05},{"x":-17.5,"y":0.07},{"x":-17,"y":0.09},{"x":-16.5,"y":0.12},{"x":-16,"y":0.17},{"x":-15.5,"y":0.22},{"x":-15,"y":0.30},{"x":-14.5,"y":0.37},{"x":-14,"y":0.47},{"x":-13.5,"y":0.57},{"x":-13,"y":0.68},{"x":-12.5,"y":0.79},{"x":-12,"y":0.92},{"x":-11.5,"y":1.02},{"x":-11,"y":1.13},{"x":-10.5,"y":1.22},{"x":-10,"y":1.30},{"x":-9.5,"y":1.33},{"x":-9,"y":1.36},{"x":-8.5,"y":1.32},{"x":-8,"y":1.27},{"x":-7.5,"y":1.17},{"x":-7,"y":1.09},{"x":-6.5,"y":0.98},{"x":-6,"y":0.90},{"x":-5.5,"y":0.86},{"x":-5,"y":0.92},{"x":-4.5,"y":1.10},{"x":-4,"y":1.38},{"x":-3.5,"y":1.72},{"x":-3,"y":2.12},{"x":-2.5,"y":2.60},{"x":-2,"y":3.15},{"x":-1.5,"y":3.65},{"x":-1,"y":3.90},{"x":-0.5,"y":3.86},{"x":0,"y":3.70},{"x":0.5,"y":3.40},{"x":1,"y":3.00},{"x":1.5,"y":2.45},{"x":2,"y":1.85},{"x":2.5,"y":1.30},{"x":3,"y":0.80},{"x":3.5,"y":0.50},{"x":4,"y":0.28},{"x":4.5,"y":0.14},{"x":5,"y":0.07},{"x":5.5,"y":0.04},{"x":6,"y":0.02},{"x":6.5,"y":0.01},{"x":7,"y":0.01},{"x":7.5,"y":0.0},{"x":8,"y":0.0}],
"g1":[{"x":-21,"y":0.003},{"x":-20,"y":0.006},{"x":-19,"y":0.016},{"x":-18,"y":0.036},{"x":-17,"y":0.078},{"x":-16,"y":0.154},{"x":-15,"y":0.273},{"x":-14,"y":0.444},{"x":-13,"y":0.66},{"x":-12,"y":0.893},{"x":-11,"y":1.103},{"x":-10,"y":1.243},{"x":-9.2,"y":1.28},{"x":-8,"y":1.198},{"x":-7,"y":1.025},{"x":-6,"y":0.8},{"x":-5,"y":0.57},{"x":-4,"y":0.37},{"x":-3,"y":0.219},{"x":-2,"y":0.118},{"x":-1,"y":0.058},{"x":0,"y":0.026},{"x":1,"y":0.011},{"x":2,"y":0.004},{"x":3,"y":0.001}],
"g2":[{"x":-8,"y":0.019},{"x":-7,"y":0.074},{"x":-6,"y":0.232},{"x":-5,"y":0.602},{"x":-4.5,"y":0.901},{"x":-4,"y":1.284},{"x":-3.5,"y":1.738},{"x":-3,"y":2.243},{"x":-2.5,"y":2.75},{"x":-2,"y":3.22},{"x":-1.5,"y":3.59},{"x":-1,"y":3.8},{"x":-0.67,"y":3.84},{"x":-0.5,"y":3.83},{"x":0,"y":3.67},{"x":0.5,"y":3.35},{"x":1,"y":2.91},{"x":1.5,"y":2.41},{"x":2,"y":1.9},{"x":2.5,"y":1.43},{"x":3,"y":1.015},{"x":3.5,"y":0.69},{"x":4,"y":0.445},{"x":5,"y":0.161},{"x":6,"y":0.047},{"x":7,"y":0.011}]
},
"bounds":"flush",
"spacing":425,
"hconcat":[
{"vconcat":[
 {"width":320,"height":30,
  "encoding":{"x":{"field":"t","type":"quantitative","scale":{"domain":[0,188],"nice":false,"zero":false},"axis":null},"y":{"field":"v","type":"quantitative","scale":{"domain":[-16.43,5],"nice":false,"zero":false},"axis":null}},
  "layer":[
   {"data":{"name":"levels"},"mark":{"type":"rule","color":"#a6a6a6","strokeDash":[4,3],"strokeWidth":1.3},"encoding":{"x2":{"field":"t2"}}},
   {"data":{"name":"traces"},"transform":[{"filter":"datum.k==1"}],"mark":{"type":"line","color":"black","strokeWidth":1.8}},
   {"data":{"values":[{"t":-10,"v":20,"label":"D"}]},"mark":{"type":"text","fontSize":22,"fontWeight":"bold","align":"left","baseline":"alphabetic","color":"black"},"encoding":{"text":{"field":"label"}}},
   {"data":{"values":[{"t":30,"v":18.57,"label":"Tmc1 Bth"}]},"mark":{"type":"text","fontSize":21,"fontWeight":"bold","fontStyle":"italic","align":"left","baseline":"alphabetic","color":"black"},"encoding":{"text":{"field":"label"}}},
   {"data":{"values":[{"t":88.2,"v":18.57,"label":"/Δ ; Tmc2 Δ/Δ"}]},"mark":{"type":"text","fontSize":21,"fontStyle":"italic","align":"left","baseline":"alphabetic","color":"black"},"encoding":{"text":{"field":"label"}}},
   {"data":{"values":[{"t":201.8,"v":1.07,"label":"C"},{"t":201.8,"v":-12.1,"label":"O"}]},"mark":{"type":"text","fontSize":18,"align":"left","baseline":"middle","color":"black"},"encoding":{"text":{"field":"label"}}}
  ]},
 {"width":320,"height":30,
  "encoding":{"x":{"field":"t","type":"quantitative","scale":{"domain":[0,188],"nice":false,"zero":false},"axis":null},"y":{"field":"v","type":"quantitative","scale":{"domain":[-16.43,5],"nice":false,"zero":false},"axis":null}},
  "layer":[
   {"data":{"name":"levels"},"mark":{"type":"rule","color":"#a6a6a6","strokeDash":[4,3],"strokeWidth":1.3},"encoding":{"x2":{"field":"t2"}}},
   {"data":{"name":"traces"},"transform":[{"filter":"datum.k==2"}],"mark":{"type":"line","color":"black","strokeWidth":1.8}}
  ]},
 {"width":320,"height":30,
  "encoding":{"x":{"field":"t","type":"quantitative","scale":{"domain":[0,188],"nice":false,"zero":false},"axis":null},"y":{"field":"v","type":"quantitative","scale":{"domain":[-16.43,5],"nice":false,"zero":false},"axis":null}},
  "layer":[
   {"data":{"name":"levels"},"mark":{"type":"rule","color":"#a6a6a6","strokeDash":[4,3],"strokeWidth":1.3},"encoding":{"x2":{"field":"t2"}}},
   {"data":{"name":"traces"},"transform":[{"filter":"datum.k==3"}],"mark":{"type":"line","color":"black","strokeWidth":1.8}},
   {"data":{"values":[{"t":-81.2,"t2":-81.2,"v":-7.14,"v2":12.86},{"t":-101.2,"t2":-81.2,"v":-7.14,"v2":-7.14}]},"mark":{"type":"rule","color":"black","strokeWidth":2,"strokeCap":"square"},"encoding":{"x2":{"field":"t2"},"y2":{"field":"v2"}}},
   {"data":{"values":[{"t":-74.7,"v":-5.71,"label":"20 pA"},{"t":-108.8,"v":-26.43,"label":"20 msec"}]},"mark":{"type":"text","fontSize":20,"align":"left","baseline":"alphabetic","color":"black"},"encoding":{"text":{"field":"label"}}}
  ]},
 {"width":320,"height":30,
  "encoding":{"x":{"field":"t","type":"quantitative","scale":{"domain":[0,188],"nice":false,"zero":false},"axis":null},"y":{"field":"v","type":"quantitative","scale":{"domain":[-16.43,5],"nice":false,"zero":false},"axis":null}},
  "layer":[
   {"data":{"name":"levels"},"mark":{"type":"rule","color":"#a6a6a6","strokeDash":[4,3],"strokeWidth":1.3},"encoding":{"x2":{"field":"t2"}}},
   {"data":{"name":"traces"},"transform":[{"filter":"datum.k==4"}],"mark":{"type":"line","color":"black","strokeWidth":1.8}}
  ]},
 {"width":320,"height":30,
  "encoding":{"x":{"field":"t","type":"quantitative","scale":{"domain":[0,188],"nice":false,"zero":false},"axis":null},"y":{"field":"v","type":"quantitative","scale":{"domain":[-16.43,5],"nice":false,"zero":false},"axis":null}},
  "layer":[
   {"data":{"name":"levels"},"mark":{"type":"rule","color":"#a6a6a6","strokeDash":[4,3],"strokeWidth":1.3},"encoding":{"x2":{"field":"t2"}}},
   {"data":{"name":"traces"},"transform":[{"filter":"datum.k==5"}],"mark":{"type":"line","color":"black","strokeWidth":1.8}}
  ]}
 ],
 "bounds":"flush",
 "spacing":33.5
},
{"width":211,"height":266,
 "encoding":{
  "x":{"field":"x","type":"quantitative","scale":{"domain":[-30,10],"nice":false,"zero":false},
       "axis":{"title":"Current (pA)","titleFontSize":21,"titleFontWeight":"normal","titleColor":"black","titlePadding":1,
               "values":[-30,-25,-20,-15,-10,-5,0,5,10],"labelExpr":"datum.value % 10 === 0 ? '' + datum.value : ''",
               "tickSize":{"condition":{"test":"datum.value % 10 === 0","value":9},"value":4},
               "tickWidth":2.5,"tickColor":"black","domainWidth":2.5,"domainColor":"black","labelFontSize":20,"labelPadding":9,"labelColor":"black","labelFlush":false,"labelOverlap":false,"grid":false}},
  "y":{"field":"y","type":"quantitative","scale":{"domain":[0,4],"nice":false,"zero":false},
       "axis":{"title":"Events x 1000","titleFontSize":21,"titleFontWeight":"normal","titleColor":"black","titlePadding":13,
               "values":[0,0.5,1,1.5,2,2.5,3,3.5,4],"labelExpr":"datum.value % 1 === 0 ? '' + datum.value : ''",
               "ticks":true,"tickColor":"black","tickWidth":2.5,
               "tickSize":{"condition":{"test":"datum.value % 1 === 0","value":-10},"value":-4},
               "labelPadding":16,"labelFontSize":20,"labelColor":"black",
               "domainWidth":2.5,"domainColor":"black","grid":false,"labelFlush":false,"labelOverlap":false}}
 },
 "layer":[
  {"data":{"name":"red"},"mark":{"type":"line","color":"#ff0000","strokeWidth":5,"strokeJoin":"round","strokeCap":"round"}},
  {"data":{"name":"g1"},"mark":{"type":"line","color":"black","strokeWidth":1.3,"interpolate":"monotone"}},
  {"data":{"name":"g2"},"mark":{"type":"line","color":"black","strokeWidth":1.3,"interpolate":"monotone"}},
  {"data":{"values":[{"x":14.74,"y":2.481,"label":"P"},{"x":24.6,"y":2.481,"label":"= 35%"},{"x":14.93,"y":1.624,"label":"i = -8.2 pA"}]},"mark":{"type":"text","fontSize":19,"align":"left","baseline":"alphabetic","color":"black"},"encoding":{"text":{"field":"label"}}},
  {"data":{"values":[{"x":17.39,"y":2.346,"label":"Open"}]},"mark":{"type":"text","fontSize":12,"align":"left","baseline":"alphabetic","color":"black"},"encoding":{"text":{"field":"label"}}}
 ]
}
]
}
